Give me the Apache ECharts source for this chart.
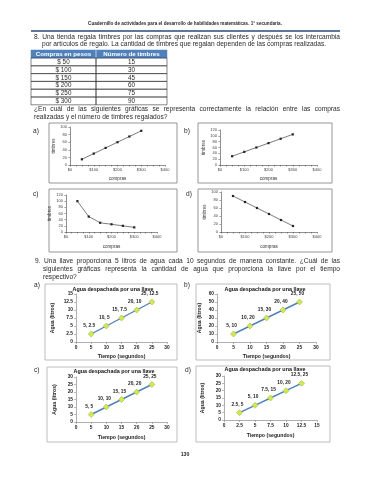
<!DOCTYPE html>
<html><head><meta charset="utf-8">
<script src="https://cdn.jsdelivr.net/npm/echarts@6/dist/echarts.min.js"></script>
<style>
html,body{margin:0;padding:0;background:#fff;}
#wrap{position:relative;width:370px;height:480px;overflow:hidden;background:#fff;}
#chart{position:absolute;left:0;top:0;width:370px;height:480px;}
.ln{position:absolute;font-family:"Liberation Sans",Arial,sans-serif;color:#2a2a2a;white-space:nowrap;line-height:1;}
.jl{text-align:justify;text-align-last:justify;white-space:normal;overflow:hidden;height:8px;}
</style></head>
<body><div id="wrap"><div id="chart"></div>
<div class="ln" style="left:0;width:370px;text-align:center;top:21.5px;font-size:4.6px;font-weight:bold;">Cuadernillo de actividades para el desarrollo de habilidades matemáticas. 1° secundaria.</div>
<div class="ln jl" style="left:34px;width:306px;top:33.5px;font-size:6.6px;">8. Una tienda regala timbres por las compras que realizan sus clientes y después se los intercambia</div>
<div class="ln" style="left:42px;top:41px;font-size:6.6px;">por artículos de regalo. La cantidad de timbres que regalan dependen de las compras realizadas.</div>
<div class="ln jl" style="left:34px;width:306px;top:105.5px;font-size:6.6px;">¿En cuál de las siguientes gráficas se representa correctamente la relación entre las compras</div>
<div class="ln" style="left:34px;top:113.5px;font-size:6.6px;">realizadas y el número de timbres regalados?</div>
<div class="ln jl" style="left:35px;width:305px;top:257.5px;font-size:6.6px;">9. Una llave proporciona 5 litros de agua cada 10 segundos de manera constante. ¿Cuál de las</div>
<div class="ln jl" style="left:43px;width:297px;top:265.5px;font-size:6.6px;">siguientes gráficas representa la cantidad de agua que proporciona la llave por el tiempo</div>
<div class="ln" style="left:43px;top:273.5px;font-size:6.6px;">respectivo?</div>
</div>
<script>
// ---------- data ----------
const tableHeaders = ['Compras en pesos', 'Número de timbres'];
const tableCompras = ['$ 50', '$ 100', '$ 150', '$ 200', '$ 250', '$ 300'];
const tableTimbres = [15, 30, 45, 60, 75, 90];

const q8Compras = [50, 100, 150, 200, 250, 300];
const q8aTimbres = [15, 30, 45, 60, 75, 90];
const q8bTimbres = [30, 45, 60, 75, 90, 105];
const q8cTimbres = [100, 50, 30, 25, 20, 15];
const q8dTimbres = [90, 75, 60, 45, 30, 15];

const q9Tiempo = [5, 10, 15, 20, 25];
const q9aAgua = [2.5, 5, 7.5, 10, 12.5];
const q9bAgua = [10, 20, 30, 40, 50];
const q9cAgua = [5, 10, 15, 20, 25];
const q9dTiempo = [2.5, 5, 7.5, 10, 12.5];
const q9dAgua = [5, 10, 15, 20, 25];

const q9Title = 'Agua despachada por una llave';
const q9XName = 'Tiempo (segundos)';
const q9YName = 'Agua (litros)';
const pageNumber = '130';

// ---------- build ----------
const FONT = '"Liberation Sans", Arial, sans-serif';
const grids = [], xAxes = [], yAxes = [], series = [], graphics = [];

function pairs(xs, ys) { return xs.map((x, i) => [x, ys[i]]); }

function txt(x, y, s, size, opts) {
  opts = opts || {};
  graphics.push({
    type: 'text', x: x, y: y, silent: true,
    style: Object.assign({ text: s, font: (opts.bold ? 'bold ' : '') + size + 'px ' + FONT,
      fill: opts.color || '#2a2a2a', textAlign: opts.align || 'left', textVerticalAlign: 'middle' })
  });
}
function box(x, y, w, h, stroke, lw) {
  graphics.push({ type: 'rect', silent: true, shape: { x: x, y: y, width: w, height: h },
    style: { fill: 'none', stroke: stroke, lineWidth: lw } });
}

// header rule
graphics.push({ type: 'line', silent: true, shape: { x1: 31, y1: 31, x2: 340, y2: 31 },
  style: { stroke: '#2d4a78', lineWidth: 1.6 } });

// table
const tX0 = 31, tX1 = 96, tX2 = 167, tY0 = 50, hH = 8, rH = 7.8;
graphics.push({ type: 'rect', silent: true, shape: { x: tX0, y: tY0, width: tX2 - tX0, height: hH },
  style: { fill: '#4f81bd', stroke: '#4f81bd', lineWidth: 0.5 } });
graphics.push({ type: 'line', silent: true, shape: { x1: tX1, y1: tY0, x2: tX1, y2: tY0 + hH },
  style: { stroke: '#ffffff', lineWidth: 0.6 } });
txt((tX0 + tX1) / 2, tY0 + hH / 2 + 0.3, tableHeaders[0], 6.2, { bold: true, color: '#ffffff', align: 'center' });
txt((tX1 + tX2) / 2, tY0 + hH / 2 + 0.3, tableHeaders[1], 6.2, { bold: true, color: '#ffffff', align: 'center' });
tableCompras.forEach((c, i) => {
  const y = tY0 + hH + i * rH;
  box(tX0, y, tX1 - tX0, rH, '#333', 0.6);
  box(tX1, y, tX2 - tX1, rH, '#333', 0.6);
  txt((tX0 + tX1) / 2, y + rH / 2 + 0.3, c, 6.3, { align: 'center' });
  txt((tX1 + tX2) / 2, y + rH / 2 + 0.3, String(tableTimbres[i]), 6.3, { align: 'center' });
});

// ---------- Q8 small charts ----------
function addQ8(gr, ys, yMax, label, lbl, bx, gaps) {
  const gi = grids.length;
  grids.push({ left: gr[0], top: gr[1], width: gr[2], height: gr[3] });
  const axLine = { lineStyle: { color: '#444', width: 0.6 } };
  xAxes.push({ gridIndex: gi, type: 'value', min: 0, max: 400, interval: 100,
    name: 'compras', nameLocation: 'middle', nameGap: gaps[1],
    nameTextStyle: { fontSize: 4.6, color: '#333', fontFamily: FONT },
    axisLine: axLine, axisTick: { show: true, length: 1.6, lineStyle: { color: '#444', width: 0.5 } },
    minorTick: { show: true, splitNumber: 4, length: 1.6, lineStyle: { color: '#444', width: 0.5 } },
    splitLine: { show: false },
    axisLabel: { fontSize: 4, color: '#444', margin: 3, fontFamily: FONT, formatter: v => '$' + v } });
  yAxes.push({ gridIndex: gi, type: 'value', min: 0, max: yMax, interval: 20,
    name: 'timbres', nameLocation: 'middle', nameGap: gaps[0], nameRotate: 90,
    nameTextStyle: { fontSize: 4.6, color: '#333', fontFamily: FONT },
    axisLine: Object.assign({ show: true }, axLine), axisTick: { show: true, length: 1.6, lineStyle: { color: '#444', width: 0.5 } },
    splitLine: { show: false },
    axisLabel: { fontSize: 4, color: '#444', margin: 3, fontFamily: FONT } });
  series.push({ type: 'line', xAxisIndex: gi, yAxisIndex: gi, data: pairs(q8Compras, ys),
    symbol: 'rect', symbolSize: 2.2, silent: true, animation: false,
    lineStyle: { color: '#222', width: 0.6 }, itemStyle: { color: '#222' } });
  box(bx[0], bx[1], bx[2], bx[3], '#8a8a8a', 0.9);
  txt(lbl[0], lbl[1], label, 6.6);
}
addQ8([70, 127, 95, 38], q8aTimbres, 100, 'a)', [33, 131], [49, 123, 128, 60], [12, 11]);
addQ8([220, 130, 97, 35], q8bTimbres, 120, 'b)', [184, 131], [198, 123, 134, 60], [13, 11]);
addQ8([66, 195, 91, 37], q8cTimbres, 120, 'c)', [33, 194], [49, 189, 128, 63], [10, 12]);
addQ8([221, 192, 96, 40], q8dTimbres, 100, 'd)', [186, 194], [198, 189, 134, 63], [13, 12]);

// ---------- Q9 charts ----------
function addQ9(gr, xs, ys, xMax, xInt, yMax, yInt, label, lbl, bx, titleY, gaps) {
  const gi = grids.length;
  grids.push({ left: gr[0], top: gr[1], width: gr[2], height: gr[3] });
  const axLine = { show: true, lineStyle: { color: '#8c8c8c', width: 0.7 } };
  const tick = { show: true, length: 2, lineStyle: { color: '#8c8c8c', width: 0.6 } };
  const lab = { fontSize: 4.8, color: '#222', fontWeight: 'bold', margin: 3, fontFamily: FONT };
  xAxes.push({ gridIndex: gi, type: 'value', min: 0, max: xMax, interval: xInt,
    name: q9XName, nameLocation: 'middle', nameGap: gaps[1],
    nameTextStyle: { fontSize: 5.2, color: '#222', fontWeight: 'bold', fontFamily: FONT },
    axisLine: axLine, axisTick: tick, splitLine: { show: false }, axisLabel: lab });
  yAxes.push({ gridIndex: gi, type: 'value', min: 0, max: yMax, interval: yInt,
    name: q9YName, nameLocation: 'middle', nameGap: gaps[0], nameRotate: 90,
    nameTextStyle: { fontSize: 5.2, color: '#222', fontWeight: 'bold', fontFamily: FONT },
    axisLine: axLine, axisTick: tick, splitLine: { show: false }, axisLabel: lab });
  series.push({ type: 'line', xAxisIndex: gi, yAxisIndex: gi, data: pairs(xs, ys),
    symbol: 'diamond', symbolSize: 6, silent: true, animation: false,
    lineStyle: { color: '#4f81bd', width: 1.4 },
    itemStyle: { color: '#d4e84c', borderColor: '#9bbb59', borderWidth: 0.6 },
    label: { show: true, position: 'top', distance: 2.5, offset: [-2, 0], fontSize: 4.8, fontWeight: 'bold',
      color: '#222', fontFamily: FONT, formatter: p => p.value[0] + ', ' + p.value[1] } });
  box(bx[0], bx[1], bx[2], bx[3], '#b5b5b5', 0.9);
  txt(bx[0] + bx[2] / 2 + 2, titleY, q9Title, 5.4, { bold: true, align: 'center', color: '#111' });
  txt(lbl[0], lbl[1], label, 6.6);
}
addQ9([76, 294, 91, 48], q9Tiempo, q9aAgua, 30, 5, 15, 2.5, 'a)', [34, 285], [45, 284, 132, 76], 290, [21, 12]);
addQ9([217, 294, 99, 48], q9Tiempo, q9bAgua, 30, 5, 60, 10, 'b)', [184, 285], [196, 284, 134, 76], 290, [15, 12]);
addQ9([76, 377, 91, 45], q9Tiempo, q9cAgua, 30, 5, 30, 5, 'c)', [34, 370], [47, 367, 130, 75], 372, [19, 13]);
addQ9([224, 376, 93, 44], q9dTiempo, q9dAgua, 15, 2.5, 30, 5, 'd)', [185, 370], [196, 366, 134, 76], 370, [19, 13]);

txt(185, 455, pageNumber, 5.2, { bold: true, align: 'center' });

const chart = echarts.init(document.getElementById('chart'), null, { renderer: 'canvas' });
chart.setOption({
  animation: false,
  backgroundColor: 'transparent',
  grid: grids, xAxis: xAxes, yAxis: yAxes, series: series,
  graphic: { elements: graphics }
});
</script>
</body></html>
